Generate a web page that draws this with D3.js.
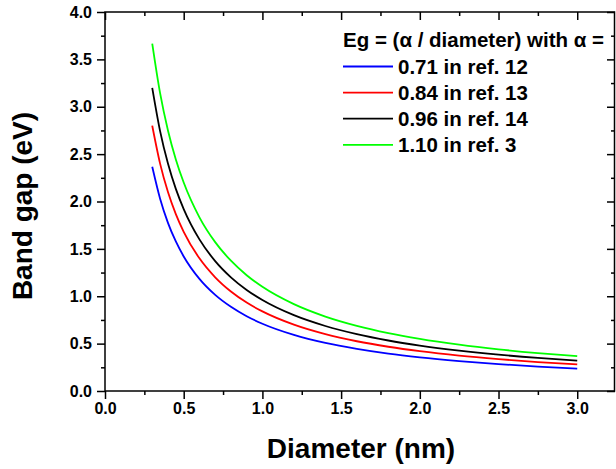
<!DOCTYPE html>
<html>
<head>
<meta charset="utf-8">
<script src="https://cdn.jsdelivr.net/npm/d3@7"></script>
<style>
  body { margin: 0; background: #fff; }
  svg text { font-family: "Liberation Sans", Arial, sans-serif; font-weight: bold; }
</style>
</head>
<body>
<div id="chart"></div>
<script>
const width = 616;
const height = 469;
const margins = {top: 12, right: 1, bottom: 78, left: 105};

const diameters = [0.3, 0.35, 0.4, 0.45, 0.5, 0.6, 0.7, 0.8, 0.9, 1.0, 1.2, 1.4, 1.6, 1.8, 2.0, 2.25, 2.5, 2.75, 3.0];
const gapRef12 = [2.367, 2.029, 1.775, 1.578, 1.42, 1.183, 1.014, 0.888, 0.789, 0.71, 0.592, 0.507, 0.444, 0.394, 0.355, 0.316, 0.284, 0.258, 0.237];
const gapRef13 = [2.80, 2.40, 2.10, 1.867, 1.68, 1.40, 1.20, 1.05, 0.933, 0.84, 0.70, 0.60, 0.525, 0.467, 0.42, 0.373, 0.336, 0.305, 0.28];
const gapRef14 = [3.20, 2.743, 2.40, 2.133, 1.92, 1.60, 1.371, 1.20, 1.067, 0.96, 0.80, 0.686, 0.60, 0.533, 0.48, 0.427, 0.384, 0.349, 0.32];
const gapRef3  = [3.667, 3.143, 2.75, 2.444, 2.20, 1.833, 1.571, 1.375, 1.222, 1.10, 0.917, 0.786, 0.688, 0.611, 0.55, 0.489, 0.44, 0.40, 0.367];

const seriesNames = ["0.71 in ref. 12", "0.84 in ref. 13", "0.96 in ref. 14", "1.10 in ref. 3"];
const seriesColors = ["#0000ff", "#ff0000", "#000000", "#00ff00"];
const seriesValues = [gapRef12, gapRef13, gapRef14, gapRef3];

const xTicks = [0, 0.5, 1.0, 1.5, 2.0, 2.5, 3.0];
const yTicks = [0, 0.5, 1.0, 1.5, 2.0, 2.5, 3.0, 3.5, 4.0];
const xMinor = [0.25, 0.75, 1.25, 1.75, 2.25, 2.75];
const yMinor = [0.25, 0.75, 1.25, 1.75, 2.25, 2.75, 3.25, 3.75];

const fontFamily = "'Liberation Sans', Arial, sans-serif";

const svg = d3.select("#chart")
  .append("svg")
  .attr("width", width)
  .attr("height", height);

const x = d3.scaleLinear()
  .domain([0, 3.24])
  .range([margins.left, width - margins.right]);

const y = d3.scaleLinear()
  .domain([0, 4])
  .range([height - margins.bottom, margins.top]);

const x0 = x.range()[0], x1 = x.range()[1];
const y0 = y.range()[0], y1 = y.range()[1];

function styleAxis(g) {
  g.attr("font-family", fontFamily).attr("font-weight", "bold");
  g.select(".domain").remove();
  g.selectAll("line").attr("stroke", "#000").attr("stroke-width", 1.5);
  g.selectAll("text")
    .attr("font-size", "16px")
    .attr("font-weight", "bold")
    .attr("fill", "#000");
}

// bottom axis, labelled, ticks out
svg.append("g")
  .attr("transform", "translate(0," + y0 + ")")
  .call(d3.axisBottom(x).tickValues(xTicks).tickSize(8).tickPadding(4).tickFormat(d3.format(".1f")))
  .call(styleAxis);
svg.append("g")
  .attr("transform", "translate(0," + y0 + ")")
  .call(d3.axisBottom(x).tickValues(xMinor).tickSize(4).tickFormat(""))
  .call(styleAxis);

// left axis, labelled, ticks out
svg.append("g")
  .attr("transform", "translate(" + x0 + ",0)")
  .call(d3.axisLeft(y).tickValues(yTicks).tickSize(8).tickPadding(5).tickFormat(d3.format(".1f")))
  .call(styleAxis);
svg.append("g")
  .attr("transform", "translate(" + x0 + ",0)")
  .call(d3.axisLeft(y).tickValues(yMinor).tickSize(4).tickFormat(""))
  .call(styleAxis);

// top mirror axis, ticks pointing in
svg.append("g")
  .attr("transform", "translate(0," + y1 + ")")
  .call(d3.axisBottom(x).tickValues(xTicks).tickSize(8).tickFormat(""))
  .call(styleAxis);
svg.append("g")
  .attr("transform", "translate(0," + y1 + ")")
  .call(d3.axisBottom(x).tickValues(xMinor).tickSize(4).tickFormat(""))
  .call(styleAxis);

// right mirror axis, ticks pointing in
svg.append("g")
  .attr("transform", "translate(" + x1 + ",0)")
  .call(d3.axisLeft(y).tickValues(yTicks).tickSize(8).tickFormat(""))
  .call(styleAxis);
svg.append("g")
  .attr("transform", "translate(" + x1 + ",0)")
  .call(d3.axisLeft(y).tickValues(yMinor).tickSize(4).tickFormat(""))
  .call(styleAxis);

// frame
svg.append("rect")
  .attr("x", x0)
  .attr("y", y1)
  .attr("width", x1 - x0 - 0.5)
  .attr("height", y0 - y1)
  .attr("fill", "none")
  .attr("stroke", "#000")
  .attr("stroke-width", 1.5);

// curves
const line = d3.line()
  .x((d, i) => x(diameters[i]))
  .y(d => y(d))
  .curve(d3.curveMonotoneX);

svg.append("g")
  .selectAll("path")
  .data(seriesValues)
  .join("path")
    .attr("d", d => line(d))
    .attr("fill", "none")
    .attr("stroke", (d, i) => seriesColors[i])
    .attr("stroke-width", 1.8);

// axis titles
svg.append("text")
  .attr("x", (x0 + x1) / 2 + 1)
  .attr("y", 458)
  .attr("text-anchor", "middle")
  .attr("font-family", fontFamily)
  .attr("font-weight", "bold")
  .attr("font-size", "28px")
  .text("Diameter (nm)");

svg.append("text")
  .attr("transform", "translate(32,206) rotate(-90)")
  .attr("text-anchor", "middle")
  .attr("font-family", fontFamily)
  .attr("font-weight", "bold")
  .attr("font-size", "28px")
  .text("Band gap (eV)");

// legend
const legend = svg.append("g")
  .attr("transform", "translate(343,0)")
  .attr("font-family", fontFamily)
  .attr("font-weight", "bold");

legend.append("text")
  .attr("x", 0)
  .attr("y", 47)
  .attr("font-size", "20.5px")
  .text("Eg = (\u03b1 / diameter) with \u03b1 =");

const rows = legend.selectAll("g.row")
  .data(seriesNames)
  .join("g")
    .attr("class", "row")
    .attr("transform", (d, i) => "translate(0," + (66.5 + i * 26.1) + ")");

rows.append("line")
  .attr("x1", 0)
  .attr("x2", 50)
  .attr("stroke", (d, i) => seriesColors[i])
  .attr("stroke-width", 1.8);

rows.append("text")
  .attr("x", 55)
  .attr("y", 7)
  .attr("font-size", "20.5px")
  .text(d => d);
</script>
</body>
</html>
